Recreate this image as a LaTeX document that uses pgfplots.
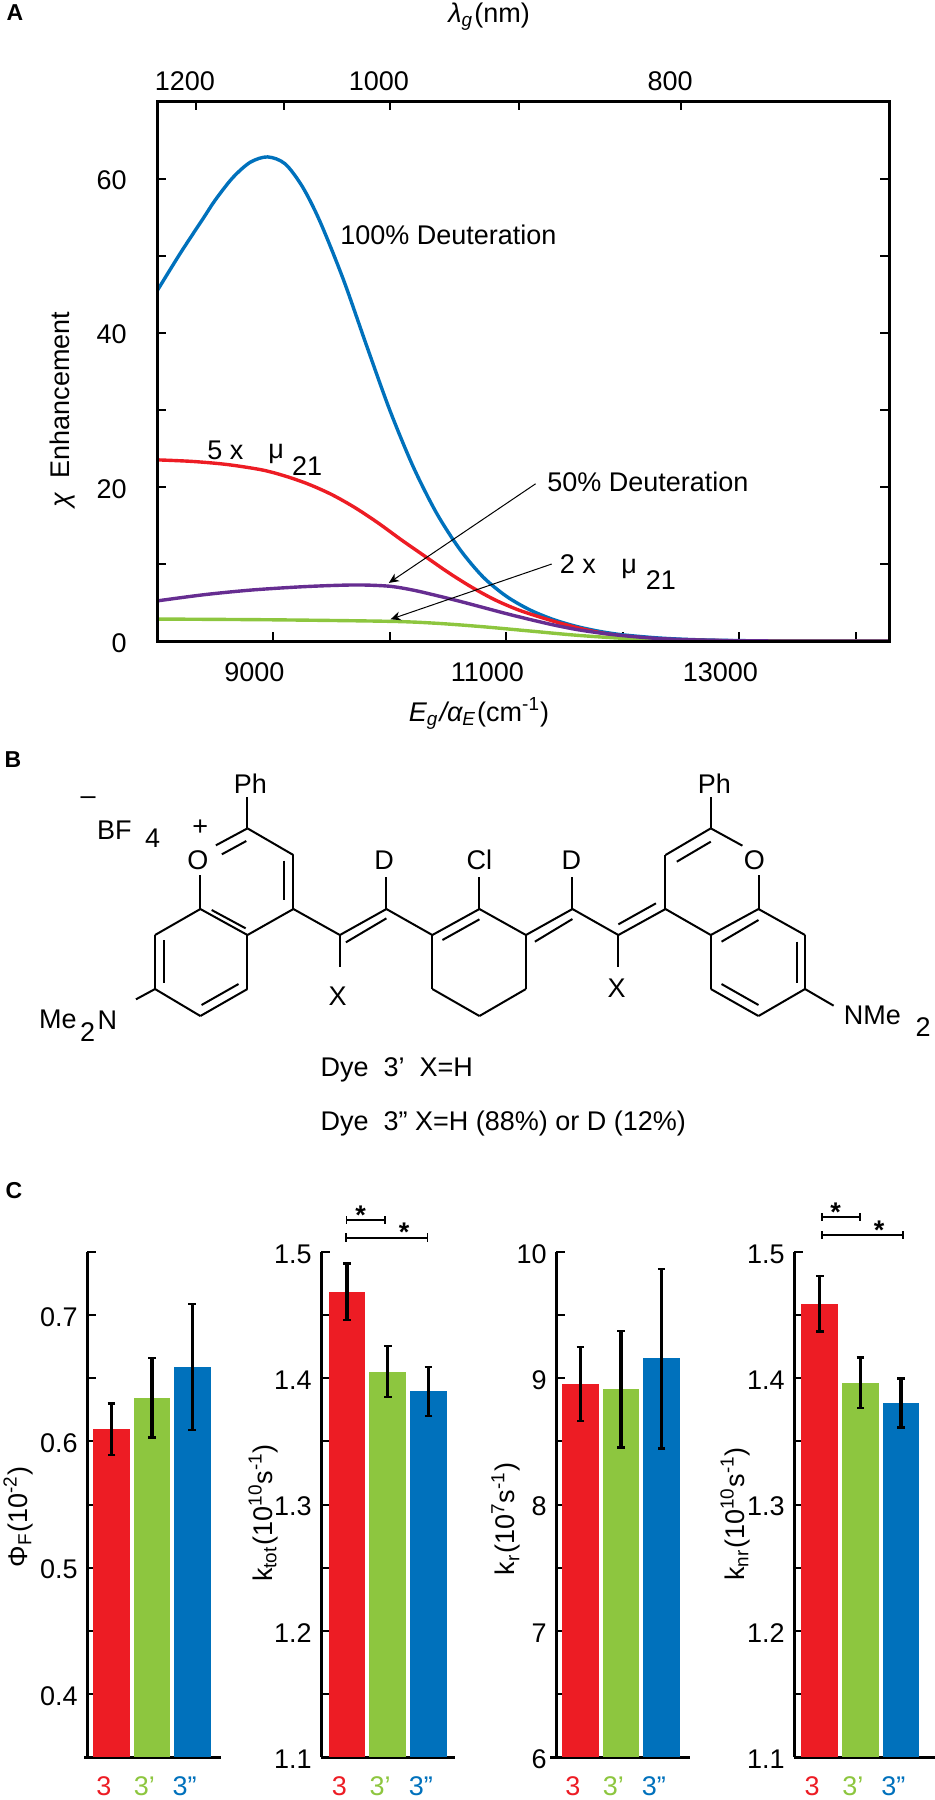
\documentclass[border=0pt]{standalone}
\usepackage{pgfplots}
\usepackage{fontspec}
\setmainfont{Liberation Sans}
\pgfplotsset{compat=1.18}
\usetikzlibrary{arrows.meta}
\definecolor{cblue}{RGB}{0,113,188}
\definecolor{cred}{RGB}{237,28,36}
\definecolor{cgreen}{RGB}{141,198,63}
\definecolor{cpurple}{RGB}{102,45,145}
\newcommand{\fs}{\fontsize{13.5}{15}\selectfont}
\newcommand{\bond}[4]{\addplot[black,line width=1pt,no markers,forget plot] coordinates {(#1,#2)(#3,#4)};}
\pgfplotsset{
  barpanel/.style={
    scale only axis, width=67pt, height=252.5pt, clip=false,
    axis x line*=bottom, axis y line*=left, axis line style={line width=1.5pt,-},
    xtick={0,1,2}, 
    xticklabels={\textcolor{cred}{3},\textcolor{cgreen}{3’},\textcolor{cblue}{3”}},
    xticklabel style={font=\fs, xshift=-3.8pt, yshift=-9.5pt, inner sep=0pt},
    yticklabel style={font=\fs, yshift=-1pt, xshift=-4.5pt, inner sep=0pt},
    ytick style={line width=1pt, black}, xtick style={draw=none},
    tick align=inside, ytick pos=left, major tick length=4.5pt,
  },
  barstyle/.style={ybar, bar width=18.35pt, bar shift=0pt, fill=#1, draw=none, forget plot,
    error bars/.cd, y dir=both, y explicit,
    error bar style={line width=1.7pt, black},
    error mark options={rotate=90, mark size=1.9pt, line width=1.2pt, black}},
  curve/.style={#1,line width=1.7pt,smooth,tension=0.5,no markers},
}
\begin{document}
\begin{tikzpicture}[x=0.5pt,y=-0.5pt]
\useasboundingbox (0,0) rectangle (935,1800);

% ---------- Panel A ----------
\begin{axis}[at={(78.5pt,-320.5pt)}, anchor=south west, scale only axis, width=366pt, height=269.8pt,
  xmin=8000, xmax=14285, ymin=0, ymax=70, scaled x ticks=false,
  axis line style={line width=1.5pt}, tick align=inside, major tick length=4.5pt,
  tick style={line width=1pt,black},
  xtick pos=bottom, ytick pos=both, yticklabel pos=left,
  xtick={9000,10000,11000,12000,13000,14000}, xticklabels={9000,,11000,,13000,},
  ytick={0,10,20,30,40,50,60}, yticklabels={0,,20,,40,,60},
  xticklabel style={font=\fs, xshift=-9.5pt, yshift=-10.5pt, inner sep=0pt},
  yticklabel style={font=\fs, xshift=-15pt, yshift=-1pt, inner sep=0pt},
]
\addplot[curve=cblue] coordinates {
(8000,45.4)(8200,50.3)(8400,54.9)(8500,57.2)(8650,60.1)(8800,62.1)(8950,62.8)(9100,61.9)(9250,58.9)(9400,54.4)(9600,46.9)(9800,38.3)(10000,29.9)(10200,22.6)(10400,16.6)(10600,11.9)(10800,8.3)(11000,5.8)(11200,4.05)(11400,2.8)(11600,1.9)(11800,1.25)(12000,0.8)(12300,0.4)(12600,0.18)(13000,0.05)(13500,0)(14285,0)};
\addplot[curve=cred] coordinates {
(8000,23.5)(8300,23.3)(8600,22.9)(8900,22.2)(9100,21.4)(9300,20.35)(9500,19.0)(9700,17.3)(9900,15.3)(10100,13.1)(10300,11.0)(10500,8.9)(10700,7.0)(10900,5.35)(11100,4.05)(11300,3.05)(11500,2.15)(11700,1.4)(11900,0.85)(12200,0.35)(12500,0.12)(13000,0.02)(13500,0)(14285,0)};
\addplot[curve=cgreen] coordinates {
(8000,2.85)(9000,2.75)(10000,2.55)(10400,2.3)(10800,1.85)(11200,1.3)(11600,0.75)(12000,0.35)(12400,0.12)(12800,0.03)(13300,0)(14285,0)};
\addplot[curve=cpurple] coordinates {
(8000,5.2)(8400,6.0)(8800,6.6)(9200,7.0)(9500,7.2)(9750,7.27)(10000,7.1)(10200,6.6)(10400,5.9)(10600,5.15)(10800,4.35)(11000,3.55)(11200,2.8)(11400,2.1)(11600,1.5)(11800,1.05)(12000,0.7)(12300,0.33)(12600,0.15)(13000,0.03)(13500,0)(14285,0)};
\end{axis}
\begin{axis}[at={(78.5pt,-320.5pt)}, anchor=south west, scale only axis, width=366pt, height=269.8pt,
  xmin=8000, xmax=14285, ymin=0, ymax=70, scaled x ticks=false,
  axis line style={line width=1.5pt}, tick align=inside, major tick length=4.5pt,
  tick style={line width=1pt,black},
  xtick pos=top, xticklabel pos=top, ytick=\empty,
  xtick={8333.3,9090.9,10000,11111,12500}, xticklabels={1200,,1000,,800},
  xticklabel style={font=\fs, xshift=-5.5pt, yshift=5pt, inner sep=0pt},
]
\addplot[draw=none,forget plot] coordinates {(8000,0)(14285,70)};
\end{axis}

\begin{scope}[x=0.2982pt,y=-0.2360pt]
\node[font=\fs,anchor=center,inner sep=0pt] at (820,35) {\itshape λ\textsubscript{g}\upshape\kern0.6pt(nm)};
\node[font=\fs,anchor=center,inner sep=0pt] at (803,1512) {\itshape E\textsubscript{g}\kern0.6pt/α\textsubscript{E}\upshape\kern0.6pt(cm\textsuperscript{-1})};
\node[font=\fs,anchor=center,inner sep=0pt,rotate=90] at (105,868) {\itshape χ\upshape\ \ Enhancement};
\node[font=\fs,anchor=west,inner sep=0pt] at (570,497) {100\% Deuteration};
\node[font=\fs,anchor=west,inner sep=0pt] at (917,1020) {50\% Deuteration};
\node[font=\fs,anchor=west,inner sep=0pt] at (347,955) {5 x};
\node[font=\fs,inner sep=0pt] at (463,962) {μ};
\node[font=\fs,inner sep=0pt] at (515,987) {21};
\node[font=\fs,anchor=west,inner sep=0pt] at (938,1195) {2 x};
\node[font=\fs,inner sep=0pt] at (1055,1205) {μ};
\node[font=\fs,inner sep=0pt] at (1108,1228) {21};
\draw[line width=0.5pt,-{Stealth[length=5pt,width=4.5pt]}] (898,1025) -- (652,1235);
\draw[line width=0.5pt,-{Stealth[length=5pt,width=4.5pt]}] (925,1195) -- (655,1312);
\end{scope}

\node[font=\fontsize{11.5}{12}\selectfont\bfseries,inner sep=0pt] at (15,13) {A};
\node[font=\fontsize{11.5}{12}\selectfont\bfseries,inner sep=0pt] at (13,760) {B};
\node[font=\fontsize{11.5}{12}\selectfont\bfseries,inner sep=0pt] at (14,1191) {C};

% ---------- Panel B ----------
\begin{axis}[at={(0pt,-580pt)}, anchor=south west, scale only axis, width=467.5pt, height=210pt,
  hide axis, clip=false, xmin=0, xmax=1568, ymin=0, ymax=1260, y dir=reverse]
% left Ph, rings
\bond{415}{172}{415}{265}
\bond{415}{265}{492}{345}\bond{492}{345}{492}{507}\bond{477}{362}{477}{480}
\bond{492}{507}{415}{585}\bond{415}{585}{336}{507}\bond{412}{565}{355}{510}
\bond{336}{507}{336}{405}\bond{415}{265}{362}{316}\bond{413}{303}{372}{343}
\bond{336}{507}{260}{585}\bond{260}{585}{260}{747}\bond{275}{600}{275}{730}
\bond{260}{747}{336}{828}\bond{336}{828}{415}{747}\bond{338}{795}{400}{732}
\bond{415}{747}{415}{585}\bond{260}{747}{228}{778}
% chain left
\bond{492}{507}{570}{585}\bond{570}{585}{648}{507}\bond{580}{607}{648}{535}
\bond{570}{585}{570}{682}\bond{648}{507}{648}{412}\bond{648}{507}{725}{585}
% central ring
\bond{725}{585}{804}{507}\bond{742}{600}{804}{538}\bond{804}{507}{882}{585}
\bond{882}{585}{882}{747}\bond{882}{747}{804}{828}\bond{804}{828}{725}{747}
\bond{725}{747}{725}{585}\bond{804}{507}{804}{412}
% chain right
\bond{882}{585}{960}{507}\bond{897}{605}{960}{537}\bond{960}{507}{960}{412}
\bond{960}{507}{1037}{585}\bond{1037}{585}{1116}{507}\bond{1037}{553}{1100}{490}
\bond{1037}{585}{1037}{682}
% right rings
\bond{1116}{507}{1116}{345}\bond{1116}{345}{1192}{265}\bond{1135}{365}{1192}{305}
\bond{1192}{265}{1245}{317}\bond{1272}{405}{1272}{507}\bond{1192}{172}{1192}{265}
\bond{1116}{507}{1192}{585}\bond{1192}{585}{1272}{507}\bond{1210}{605}{1272}{540}
\bond{1272}{507}{1350}{585}\bond{1350}{585}{1350}{747}\bond{1336}{605}{1336}{730}
\bond{1350}{747}{1272}{828}\bond{1272}{828}{1192}{747}\bond{1210}{732}{1272}{795}
\bond{1192}{747}{1192}{585}\bond{1350}{747}{1398}{797}
\tikzset{every node/.style={font=\fs,inner sep=0pt}}
\node at (420,130) {Ph}; \node at (1198,130) {Ph};
\node at (332,360) {O}; \node at (1265,360) {O};
\node at (148,183) {–}; \node at (192,270) {BF}; \node at (256,295) {4}; \node at (336,262) {+};
\node at (97,838) {Me}; \node at (147,875) {2}; \node at (180,840) {N};
\node at (644,362) {D}; \node at (804,358) {Cl}; \node at (958,360) {D};
\node at (566,770) {X}; \node at (1034,745) {X};
\node at (1463,825) {NMe}; \node at (1548,862) {2};
\node[anchor=west] at (537,990) {Dye\ \ 3’\ \ X=H};
\node[anchor=west] at (537,1150) {Dye\ \ 3” X=H (88\%) or D (12\%)};
\end{axis}

% ---------- Panel C ----------
\begin{axis}[barpanel, at={(43.5pt,-878.5pt)}, anchor=south west,
  xmin=-0.607, xmax=2.712, ymin=0.35, ymax=0.75,
  ytick={0.35,0.4,0.45,0.5,0.55,0.6,0.65,0.7,0.75}, yticklabels={,0.4,,0.5,,0.6,,0.7,}]
\addplot[barstyle=cred] coordinates {(0,0.61) +=(0,0.02) -=(0,0.021)};
\addplot[barstyle=cgreen] coordinates {(1,0.634) +=(0,0.032) -=(0,0.031)};
\addplot[barstyle=cblue] coordinates {(2,0.659) +=(0,0.05) -=(0,0.05)};
\end{axis}
\begin{axis}[barpanel, at={(160.5pt,-878.5pt)}, anchor=south west,
  xmin=-0.64, xmax=2.65, ymin=1.1, ymax=1.5,
  ytick={1.1,1.15,1.2,1.25,1.3,1.35,1.4,1.45,1.5}, yticklabels={1.1,,1.2,,1.3,,1.4,,1.5}]
\addplot[barstyle=cred] coordinates {(0,1.4685) +=(0,0.0223) -=(0,0.0225)};
\addplot[barstyle=cgreen] coordinates {(1,1.405) +=(0,0.0205) -=(0,0.02)};
\addplot[barstyle=cblue] coordinates {(2,1.3896) +=(0,0.0194) -=(0,0.0196)};
\end{axis}
\begin{axis}[barpanel, at={(278pt,-878.5pt)}, anchor=south west,
  xmin=-0.6, xmax=2.70, ymin=6, ymax=10,
  ytick={6,6.5,7,7.5,8,8.5,9,9.5,10}, yticklabels={6,,7,,8,,9,,10}]
\addplot[barstyle=cred] coordinates {(0,8.956) +=(0,0.294) -=(0,0.296)};
\addplot[barstyle=cgreen] coordinates {(1,8.915) +=(0,0.461) -=(0,0.462)};
\addplot[barstyle=cblue] coordinates {(2,9.157) +=(0,0.709) -=(0,0.713)};
\end{axis}
\begin{axis}[barpanel, at={(397pt,-878.5pt)}, anchor=south west, width=70.5pt,
  xmin=-0.632, xmax=2.835, ymin=1.1, ymax=1.5,
  ytick={1.1,1.15,1.2,1.25,1.3,1.35,1.4,1.45,1.5}, yticklabels={1.1,,1.2,,1.3,,1.4,,1.5}]
\addplot[barstyle=cred] coordinates {(0,1.459) +=(0,0.022) -=(0,0.022)};
\addplot[barstyle=cgreen] coordinates {(1,1.3966) +=(0,0.02) -=(0,0.0201)};
\addplot[barstyle=cblue] coordinates {(2,1.3807) +=(0,0.0191) -=(0,0.0197)};
\end{axis}

\node[font=\fs,rotate=90,inner sep=0pt] at (18,1517) {Φ\textsubscript{F}\kern0.5pt(10\textsuperscript{-2})};
\node[font=\fs,rotate=90,inner sep=0pt] at (263,1513) {k\textsubscript{tot}\kern0.5pt(10\textsuperscript{10}s\textsuperscript{-1})};
\node[font=\fs,rotate=90,inner sep=0pt] at (506,1519) {k\textsubscript{r}\kern0.5pt(10\textsuperscript{7}s\textsuperscript{-1})};
\node[font=\fs,rotate=90,inner sep=0pt] at (735,1514) {k\textsubscript{nr}\kern0.5pt(10\textsuperscript{10}s\textsuperscript{-1})};
\draw[line width=1.5pt] (550,1757) -- (556,1757);
\draw[line width=1.5pt] (84,1757) -- (87,1757);

% significance brackets (zoom coordinates)
\begin{scope}[x=0.16667pt,y=-0.20088pt,yshift=-585pt]
\draw[line width=1pt] (1040,125)--(1155,125); \draw[line width=0.8pt] (1040,115)--(1040,135); \draw[line width=0.8pt] (1155,115)--(1155,135);
\draw[line width=1pt] (1038,168)--(1282,168); \draw[line width=0.8pt] (1038,158)--(1038,178); \draw[line width=0.8pt] (1282,158)--(1282,178);
\node[font=\fs\bfseries,inner sep=0pt] at (1082,112) {*};
\node[font=\fs\bfseries,inner sep=0pt] at (1212,155) {*};
\draw[line width=1pt] (2465,118)--(2580,118); \draw[line width=0.8pt] (2465,108)--(2465,128); \draw[line width=0.8pt] (2580,108)--(2580,128);
\draw[line width=1pt] (2465,162)--(2708,162); \draw[line width=0.8pt] (2465,152)--(2465,172); \draw[line width=0.8pt] (2708,152)--(2708,172);
\node[font=\fs\bfseries,inner sep=0pt] at (2507,106) {*};
\node[font=\fs\bfseries,inner sep=0pt] at (2637,149) {*};
\end{scope}
\end{tikzpicture}
\end{document}
